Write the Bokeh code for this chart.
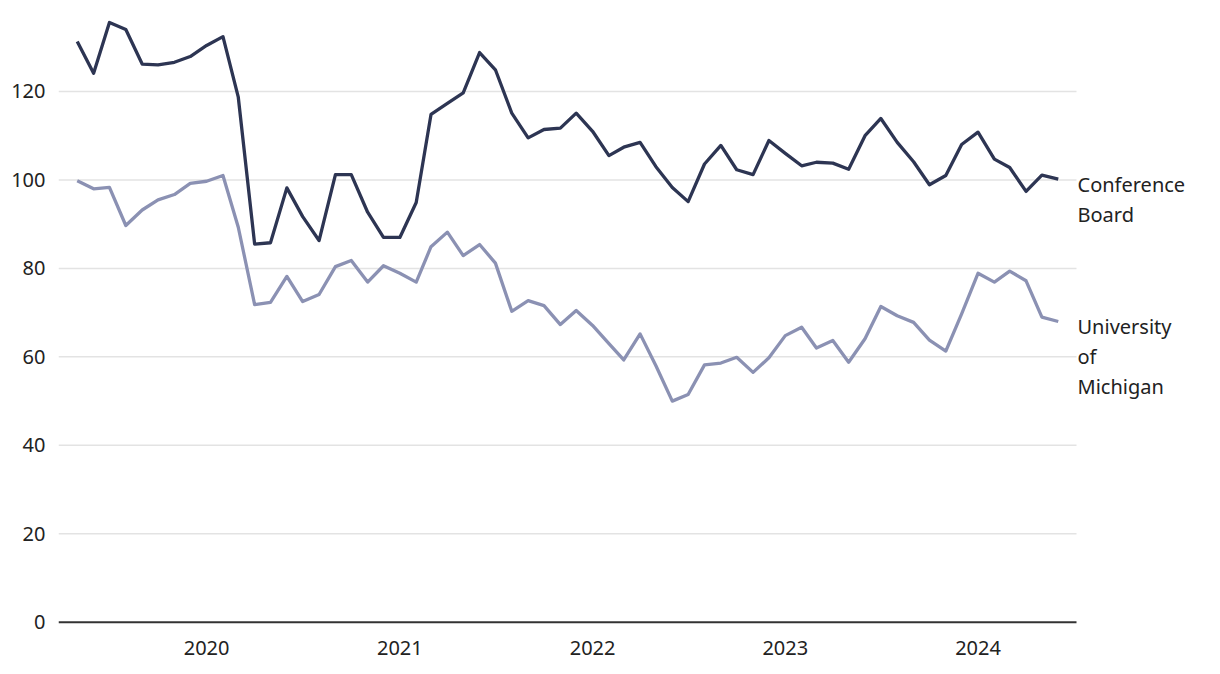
import pandas as pd
from datetime import datetime, timezone, timedelta
from bokeh.plotting import figure
from bokeh.models import Range1d, FixedTicker, DatetimeTickFormatter, ColumnDataSource
from bokeh.core.properties import value
from bokeh.embed import file_html
from bokeh.resources import INLINE

months = list(pd.date_range("2019-05-01", periods=62, freq="MS"))

conference_board = [
    131.3, 124.1, 135.6, 134.0, 126.2, 126.0, 126.6, 127.9,
    130.4, 132.4, 118.7, 85.5, 85.8, 98.2, 91.7, 86.3, 101.2, 101.2, 92.7, 87.0,
    87.0, 94.9, 114.8, 117.3, 119.7, 128.8, 124.9, 115.1, 109.5, 111.4, 111.7, 115.1,
    111.0, 105.5, 107.4, 108.5, 103.0, 98.3, 95.1, 103.6, 107.8, 102.3, 101.2, 108.9,
    106.0, 103.2, 104.0, 103.8, 102.4, 110.0, 113.9, 108.5, 104.1, 98.9, 101.0, 108.0,
    110.8, 104.7, 102.8, 97.4, 101.1, 100.2,
]
michigan = [
    99.8, 98.0, 98.3, 89.7, 93.2, 95.5, 96.7, 99.2,
    99.7, 101.0, 89.3, 71.8, 72.3, 78.2, 72.5, 74.1, 80.4, 81.8, 76.9, 80.6,
    78.9, 76.9, 84.9, 88.2, 82.9, 85.4, 81.2, 70.3, 72.7, 71.6, 67.3, 70.5,
    67.1, 63.0, 59.3, 65.2, 58.0, 50.0, 51.5, 58.2, 58.6, 59.9, 56.5, 59.8,
    64.8, 66.7, 62.0, 63.7, 58.8, 64.1, 71.4, 69.3, 67.8, 63.8, 61.3, 69.7,
    78.9, 76.9, 79.4, 77.2, 69.0, 68.0,
]
year_ticks = [2020, 2021, 2022, 2023, 2024]
y_ticks = [0, 20, 40, 60, 80, 100, 120]
label_cb = ["Conference", "Board"]
label_um = ["University", "of", "Michigan"]

FONT = "Noto Sans"
DARK = "#2d3553"
LIGHT = "#8b91b3"
TEXT = "#222222"

def ms(d):
    return d.replace(tzinfo=timezone.utc).timestamp() * 1000

# horizontal scale: Jan 1 2020 at page x 206.1, 0.528 px/day
PX_PER_DAY = 0.528
jan2020 = datetime(2020, 1, 1)
x_start = jan2020 - timedelta(days=(206.1 - 58) / PX_PER_DAY)
x_end = jan2020 + timedelta(days=(1204 - 206.1) / PX_PER_DAY)
grid_end = jan2020 + timedelta(days=(1076 - 206.1) / PX_PER_DAY)

p = figure(
    width=1204, height=664,
    x_axis_type="datetime",
    x_range=Range1d(ms(x_start), ms(x_end)),
    y_range=Range1d(-0.5, 137.85),
    output_backend="svg", toolbar_location=None,
    min_border_left=58, min_border_right=0, min_border_top=12, min_border_bottom=40,
)
p.outline_line_color = None
p.background_fill_color = "white"
p.border_fill_color = "white"

# horizontal gridlines ending at the data area edge
grid_src = ColumnDataSource(dict(
    x0=[ms(x_start)] * (len(y_ticks) - 1),
    x1=[ms(grid_end)] * (len(y_ticks) - 1),
    y=y_ticks[1:],
))
p.segment(x0="x0", y0="y", x1="x1", y1="y", source=grid_src,
          line_color="#e3e3e3", line_width=1.5)

p.line(months, conference_board, line_color=DARK, line_width=3.3, line_join="round")
p.line(months, michigan, line_color=LIGHT, line_width=3.3, line_join="round")

# baseline at 0
p.segment(x0=[ms(x_start)], y0=[y_ticks[0]], x1=[ms(grid_end)], y1=[y_ticks[0]],
          line_color="#333333", line_width=2)

tick_ms = [ms(datetime(y, 1, 1)) for y in year_ticks]
p.xaxis.ticker = FixedTicker(ticks=tick_ms)
p.xaxis.formatter = DatetimeTickFormatter(years="%Y", months="%Y", days="%Y", hours="%Y")
p.xaxis.axis_line_color = None
p.xaxis.major_tick_line_color = None
p.xaxis.minor_tick_line_color = None
p.xaxis.major_tick_out = 0
p.xaxis.major_tick_in = 0
p.xaxis.minor_tick_out = 0
p.xaxis.major_label_standoff = 16
p.xaxis.major_label_text_font = FONT
p.xaxis.major_label_text_font_size = "20px"
p.xaxis.major_label_text_color = TEXT

p.yaxis.ticker = FixedTicker(ticks=y_ticks)
p.yaxis.axis_line_color = None
p.yaxis.major_tick_line_color = None
p.yaxis.minor_tick_line_color = None
p.yaxis.major_tick_out = 0
p.yaxis.major_tick_in = 0
p.yaxis.minor_tick_out = 0
p.yaxis.major_label_standoff = 13
p.yaxis.major_label_text_font = FONT
p.yaxis.major_label_text_font_size = "20px"
p.yaxis.major_label_text_color = TEXT

p.xgrid.grid_line_color = None
p.ygrid.grid_line_color = None

# series labels, one text per line
def label_rows(lines, y_first_px):
    ys = []
    for i, _ in enumerate(lines):
        ypx = y_first_px + 30 * i
        ys.append(100 + (179.3 - ypx) / 4.4235)
    return ys

all_text = label_cb + label_um
all_y = label_rows(label_cb, 184) + label_rows(label_um, 326)
lab_src = ColumnDataSource(dict(x=[ms(grid_end)] * len(all_text), y=all_y, text=all_text))
p.text(x="x", y="y", text="text", source=lab_src, x_offset=1,
       text_font=value(FONT), text_font_size="20px", text_color=TEXT,
       text_baseline="middle", text_align="left")

open("out.html", "w").write(file_html(p, INLINE))
